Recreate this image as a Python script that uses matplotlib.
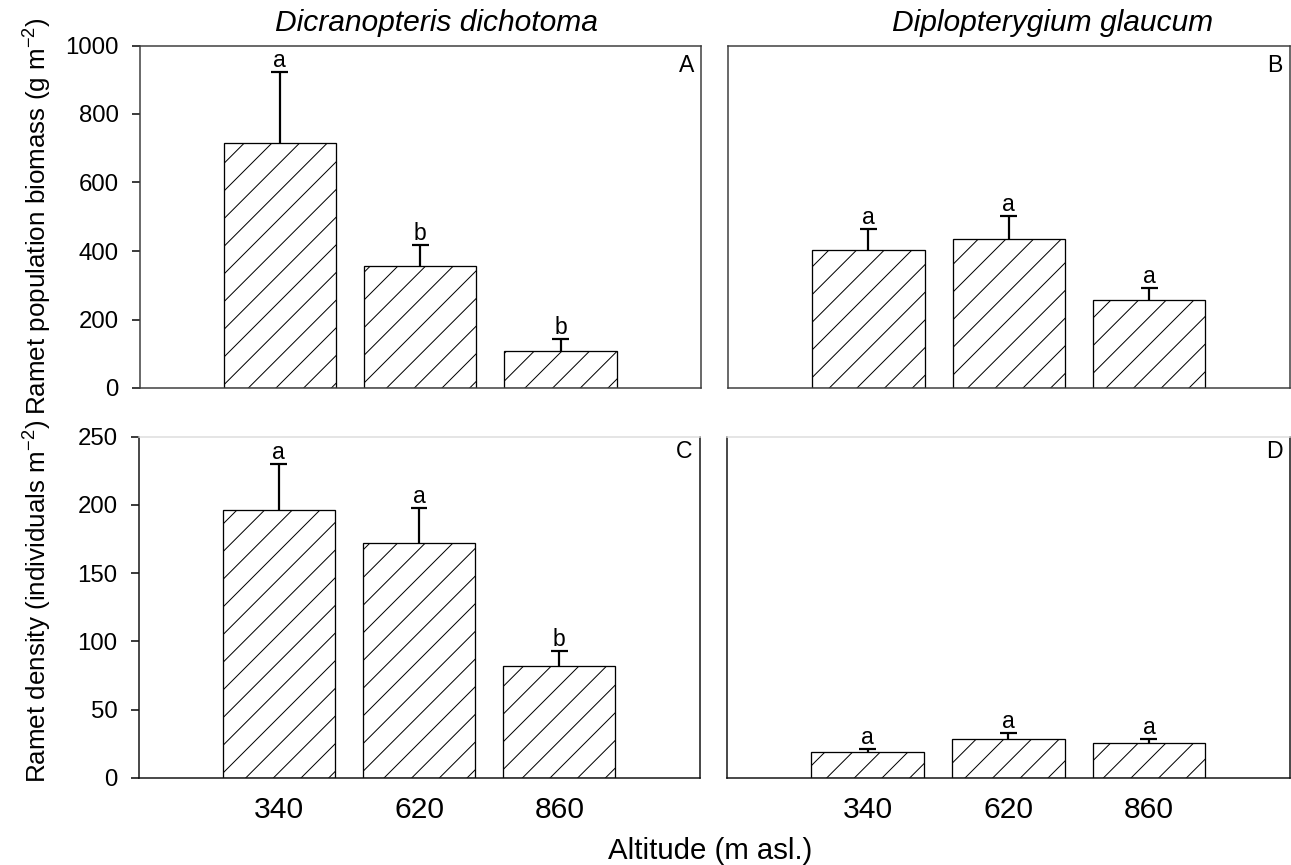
import matplotlib
matplotlib.use('Agg')
import matplotlib.pyplot as plt

DPI = 166
W, H = 1291, 865


def px(v):
    # pixel size -> points at this dpi
    return v * 72.0 / DPI


plt.rcParams['font.family'] = ['Liberation Sans', 'DejaVu Sans']
plt.rcParams['mathtext.fontset'] = 'custom'
plt.rcParams['mathtext.rm'] = 'Liberation Sans'
plt.rcParams['hatch.linewidth'] = px(1.0)
plt.rcParams['hatch.color'] = 'black'

altitudes = ['340', '620', '860']
species = ['Dicranopteris dichotoma', 'Diplopterygium glaucum']

# ramet population biomass (g m-2), mean and SE
biomass_dd = [716, 357, 108]
biomass_dd_se = [208, 61, 35]
biomass_dd_sig = ['a', 'b', 'b']
biomass_dg = [403, 434, 257]
biomass_dg_se = [62, 68, 35]
biomass_dg_sig = ['a', 'a', 'a']

# ramet density (individuals m-2), mean and SE
density_dd = [196, 172, 82]
density_dd_se = [34, 26, 11]
density_dd_sig = ['a', 'a', 'b']
density_dg = [19.2, 28.5, 25.3]
density_dg_se = [1.8, 4.4, 3.2]
density_dg_sig = ['a', 'a', 'a']

panel_letters = ['A', 'B', 'C', 'D']


def box(l, t, r, b):
    return [l / W, 1 - b / H, (r - l) / W, (b - t) / H]


fig = plt.figure(figsize=(W / DPI, H / DPI), dpi=DPI)
ax_a = fig.add_axes(box(139.5, 45.5, 701, 388))
ax_b = fig.add_axes(box(728, 45.5, 1289.5, 388))
ax_c = fig.add_axes(box(138.5, 436.5, 699.5, 778))
ax_d = fig.add_axes(box(727, 436.5, 1289.5, 778))

panels = [
    (ax_a, biomass_dd, biomass_dd_se, biomass_dd_sig, 1000, True, False),
    (ax_b, biomass_dg, biomass_dg_se, biomass_dg_sig, 1000, False, False),
    (ax_c, density_dd, density_dd_se, density_dd_sig, 250, True, True),
    (ax_d, density_dg, density_dg_se, density_dg_sig, 250, False, True),
]

xpos = [1, 2, 3]
cap = 0.06  # half cap width, x data units
for i, (ax, vals, se, sig, ymax, show_y, bottom_row) in enumerate(panels):
    ax.bar(xpos, vals, width=0.8, facecolor='white', edgecolor='black',
           linewidth=px(1.3), hatch='//', zorder=2)
    tops = [v + s for v, s in zip(vals, se)]
    # upper error bars only
    ax.vlines(xpos, vals, tops, color='black', linewidth=px(2.2), zorder=3)
    ax.hlines(tops, [x - cap for x in xpos], [x + cap for x in xpos],
              color='black', linewidth=px(2.2), zorder=3)
    for x, t, lab in zip(xpos, tops, sig):
        ax.annotate(lab, (x, t), xytext=(0, px(5)), textcoords='offset points',
                    ha='center', va='baseline', fontsize=px(23))
    ax.set_xlim(0, 4)
    ax.set_ylim(0, ymax)

    if show_y:
        step = 200 if ymax == 1000 else 50
        ax.set_yticks(range(0, ymax + 1, step))
        ax.tick_params(axis='y', direction='out', length=px(8), width=px(1.5),
                       pad=px(13), labelsize=px(24))
    else:
        ax.set_yticks([])

    if bottom_row:
        ax.set_xticks(xpos)
        ax.set_xticklabels(altitudes)
        ax.tick_params(axis='x', length=0, pad=px(18), labelsize=px(30))
        for side in ['left', 'bottom', 'right']:
            ax.spines[side].set_color('#111111')
        ax.spines['top'].set_color('#dddddd')
    else:
        ax.set_xticks([])
        for side in ax.spines:
            ax.spines[side].set_color('#3c3c3c')
    for side in ax.spines:
        ax.spines[side].set_linewidth(px(1.5))

    ax.annotate(panel_letters[i], xy=(1, 1), xycoords='axes fraction',
                xytext=(px(-7), px(-21.5 if bottom_row else -26.5)),
                textcoords='offset points', ha='right', va='baseline',
                fontsize=px(23))

fig.text(436 / W, 1 - 31 / H, species[0], ha='center', va='baseline',
         style='italic', fontsize=px(30))
fig.text(1053 / W, 1 - 31 / H, species[1], ha='center', va='baseline',
         style='italic', fontsize=px(30))

fig.text(37 / W, 1 - 216 / H, r'Ramet population biomass (g m$^{-2}$)',
         rotation=90, ha='center', va='center', fontsize=px(26))
fig.text(37 / W, 1 - 601 / H, r'Ramet density (individuals m$^{-2}$)',
         rotation=90, ha='center', va='center', fontsize=px(26))
fig.text(710 / W, 1 - 859 / H, 'Altitude (m asl.)', ha='center', va='baseline',
         fontsize=px(29.4))

fig.savefig('out.png', dpi=DPI)
